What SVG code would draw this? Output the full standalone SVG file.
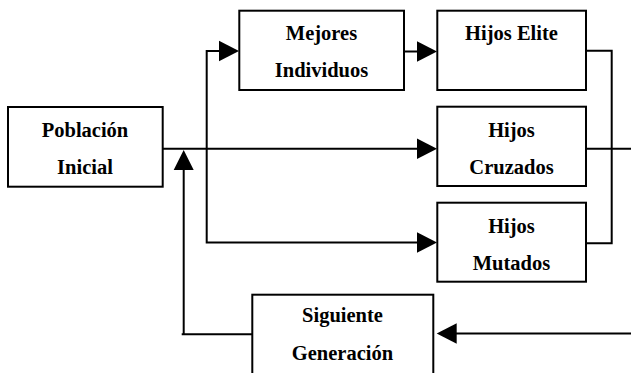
<svg xmlns="http://www.w3.org/2000/svg" width="631" height="373" viewBox="0 0 631 373">
<defs>
<style>
.box{fill:#fff;stroke:#000;stroke-width:2}
.t{font-family:"Liberation Serif","Times New Roman",serif;font-weight:bold;font-size:20.5px;fill:#000;text-anchor:middle}
.ln{fill:none;stroke:#000;stroke-width:2}
.ah{fill:#000;stroke:none}
</style>
</defs>
<rect width="631" height="373" fill="#fff"/>
<g id="connectors">
<polyline class="ln" points="162,148.7 417,148.7"/>
<polyline class="ln" points="219,51 206.7,51 206.7,242.5 417,242.5"/>
<polyline class="ln" points="404,51.5 417,51.5"/>
<polyline class="ln" points="586,50.7 611.7,50.7 611.7,243.3 586,243.3"/>
<polyline class="ln" points="586,148.7 631,148.7"/>
<polyline class="ln" points="631,333.5 456,333.5"/>
<polyline class="ln" points="252,334.3 181.7,334.3"/>
<polyline class="ln" points="183.7,334.3 183.7,170"/>
<polygon class="ah" points="239,51 219,40.7 219,61.3"/>
<polygon class="ah" points="437,51.5 417,41.2 417,61.8"/>
<polygon class="ah" points="437,148.7 417,138.4 417,159"/>
<polygon class="ah" points="437,242.5 417,232.2 417,252.8"/>
<polygon class="ah" points="436.7,333.5 456.7,323.2 456.7,343.8"/>
<polygon class="ah" points="183.7,150 173.7,170 193.7,170"/>
</g>
<g id="poblacion">
<rect class="box" x="8" y="107" width="154.7" height="79.7"/>
<text class="t" x="85" y="137">Población</text>
<text class="t" x="85" y="174">Inicial</text>
</g>
<g id="mejores">
<rect class="box" x="239.3" y="10.7" width="164.7" height="79.3"/>
<text class="t" x="321.5" y="40">Mejores</text>
<text class="t" x="321.5" y="77">Individuos</text>
</g>
<g id="elite">
<rect class="box" x="437.3" y="10.7" width="148.7" height="79.3"/>
<text class="t" x="511.5" y="40">Hijos Elite</text>
</g>
<g id="cruzados">
<rect class="box" x="437.3" y="106.7" width="148.7" height="79.3"/>
<text class="t" x="511.5" y="137">Hijos</text>
<text class="t" x="511.5" y="174">Cruzados</text>
</g>
<g id="mutados">
<rect class="box" x="437.3" y="202.7" width="148.7" height="79"/>
<text class="t" x="511.5" y="233">Hijos</text>
<text class="t" x="511.5" y="270">Mutados</text>
</g>
<g id="siguiente">
<rect class="box" x="252.3" y="294.7" width="181" height="90"/>
<text class="t" x="342.5" y="321.7">Siguiente</text>
<text class="t" x="342.5" y="360">Generación</text>
</g>
</svg>
